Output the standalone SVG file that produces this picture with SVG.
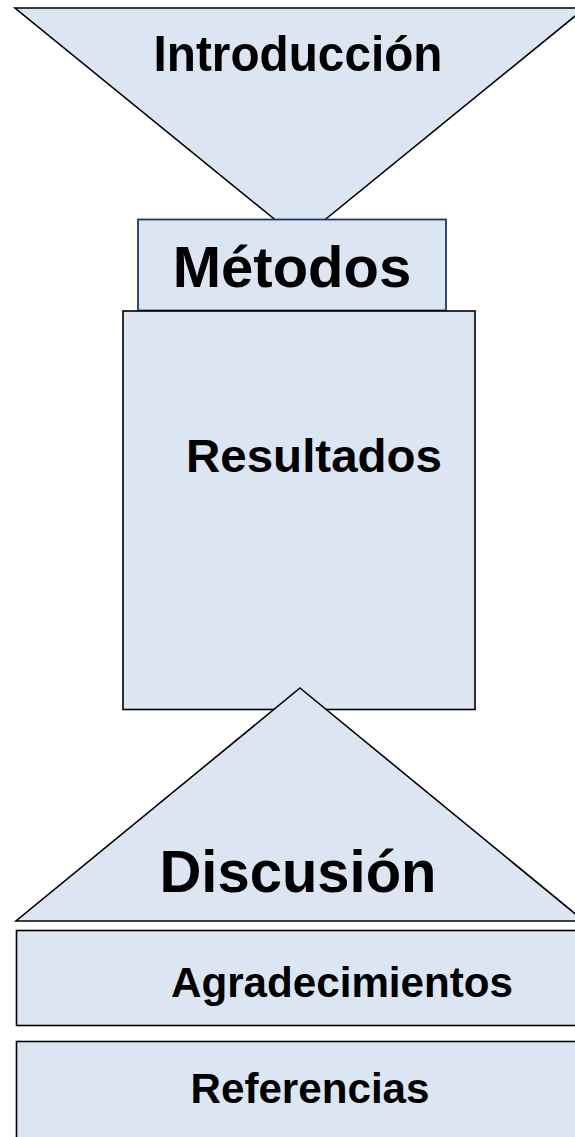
<svg xmlns="http://www.w3.org/2000/svg" width="575" height="1137" viewBox="0 0 575 1137">
<style>
.shape{fill:#DCE6F2;stroke:#000;stroke-width:1.6}
.blue{fill:#DCE6F2;stroke:#1A3572;stroke-width:1.8}
.lbl{font-family:"Liberation Sans",Arial,sans-serif;font-weight:bold;fill:#000;text-anchor:middle}
</style>
<rect width="575" height="1137" fill="#fff"/>
<g id="introduccion">
<polygon class="shape" points="15,8 585,8 300,240"/>
<text class="lbl" x="298" y="71" font-size="50" textLength="289" lengthAdjust="spacingAndGlyphs">Introducción</text>
</g>
<g id="metodos">
<rect class="blue" x="138" y="219.5" width="308" height="91"/>
<text class="lbl" x="292" y="287" font-size="58">Métodos</text>
</g>
<g id="resultados">
<rect class="shape" x="123" y="311" width="352" height="398.5"/>
<text class="lbl" x="314" y="472" font-size="47" textLength="256" lengthAdjust="spacingAndGlyphs">Resultados</text>
</g>
<g id="discusion">
<polygon class="shape" points="300,688 584,921 16,921"/>
<text class="lbl" x="298" y="892" font-size="59" textLength="277" lengthAdjust="spacingAndGlyphs">Discusión</text>
</g>
<g id="agradecimientos">
<rect class="shape" x="16.5" y="930.5" width="580" height="95"/>
<text class="lbl" x="342" y="997" font-size="43" textLength="342" lengthAdjust="spacingAndGlyphs">Agradecimientos</text>
</g>
<g id="referencias">
<rect class="shape" x="16.5" y="1041.5" width="580" height="110"/>
<text class="lbl" x="310" y="1103" font-size="42" textLength="239" lengthAdjust="spacingAndGlyphs">Referencias</text>
</g>
<g id="connectors"></g>
</svg>
